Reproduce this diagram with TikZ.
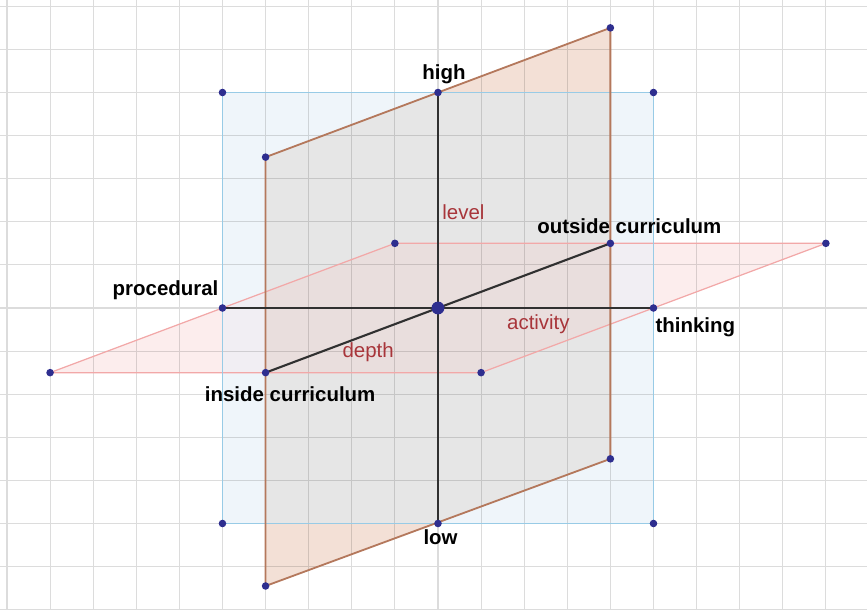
\documentclass[tikz,border=0pt]{standalone}
\usepackage{fontspec}
\setmainfont{Liberation Sans}
\definecolor{bluefill}{HTML}{EFF5FA}
\definecolor{blueedge}{HTML}{98CBE6}
\definecolor{grayfill}{HTML}{E6E6E6}
\definecolor{peachfill}{HTML}{F3E0D6}
\definecolor{brownedge}{HTML}{B4785C}
\definecolor{pinkfill}{HTML}{FCEDED}
\definecolor{lavfill}{HTML}{F1EEF3}
\definecolor{pinkgray}{HTML}{E9DEDD}
\definecolor{pinkedge}{HTML}{F2A8A8}
\definecolor{axiscol}{HTML}{303030}
\definecolor{dotcol}{HTML}{2E2E8F}
\definecolor{redlab}{HTML}{A8353A}
\definecolor{gridcol}{HTML}{DCDCDC}
\tikzset{
  gridline/.style={draw=gridcol,line width=0.7pt},
  blueline/.style={draw=blueedge,line width=1pt},
  brownline/.style={draw=brownedge,line width=1.2pt},
  pinkline/.style={draw=pinkedge,line width=0.8pt},
  axisline/.style={draw=axiscol,line width=1.4pt},
  pt/.style={circle,fill=dotcol,inner sep=0pt,minimum size=5pt},
  bigpt/.style={circle,fill=dotcol,inner sep=0pt,minimum size=8.5pt},
  lab/.style={font=\fontsize{13.5}{16}\selectfont\bfseries,text=black,anchor=base,inner sep=0pt},
  redl/.style={font=\fontsize{13.5}{16}\selectfont,text=redlab,anchor=base,inner sep=0pt}
}
\begin{document}
\begin{tikzpicture}
\useasboundingbox (-10.162,-7.007) rectangle (9.954,7.146);
% points
\coordinate (B1) at (-5,5); \coordinate (B2) at (5,5);
\coordinate (B3) at (5,-5); \coordinate (B4) at (-5,-5);
\coordinate (R1) at (-4,3.5); \coordinate (R2) at (4,6.5);
\coordinate (R3) at (4,-3.5); \coordinate (R4) at (-4,-6.45);
\coordinate (P1) at (-9,-1.5); \coordinate (P2) at (-1,1.5);
\coordinate (P3) at (9,1.5); \coordinate (P4) at (1,-1.5);
\coordinate (H) at (0,5); \coordinate (L) at (0,-5);
\coordinate (PR) at (-5,0); \coordinate (TH) at (5,0);
\coordinate (IN) at (-4,-1.5); \coordinate (OUT) at (4,1.5);
\coordinate (O) at (0,0);
% fills
\fill[bluefill] (B1) -- (B2) -- (B3) -- (B4) -- cycle;
\fill[peachfill] (R1) -- (R2) -- (R3) -- (R4) -- cycle;
\begin{scope}
  \clip (B1) -- (B2) -- (B3) -- (B4) -- cycle;
  \fill[grayfill] (R1) -- (R2) -- (R3) -- (R4) -- cycle;
\end{scope}
\fill[pinkfill] (P1) -- (P2) -- (P3) -- (P4) -- cycle;
\begin{scope}
  \clip (-5,-2) rectangle (5,2);
  \fill[lavfill] (P1) -- (P2) -- (P3) -- (P4) -- cycle;
\end{scope}
\begin{scope}
  \clip (-4,-2) rectangle (4,2);
  \fill[pinkgray] (P1) -- (P2) -- (P3) -- (P4) -- cycle;
\end{scope}
% grid
\begin{scope}[blend mode=multiply]
\draw[gridline] (-10.162,-7.007) grid[step=1] (9.954,7.146);
\end{scope}
% plane edges
\draw[pinkline] (P1) -- (P2) -- (P3) -- (P4) -- cycle;
\draw[blueline] (B1) -- (B2) -- (B3) -- (B4) -- cycle;
\draw[brownline] (R1) -- (R2) -- (R3) -- (R4) -- cycle;
% axes
\draw[axisline] (H) -- (L);
\draw[axisline] (PR) -- (TH);
\draw[axisline] (IN) -- (OUT);
% dots
\foreach \p in {B1,B2,B3,B4,R1,R2,R3,R4,P1,P2,P3,P4,H,L,PR,TH,IN,OUT}
  \node[pt] (d\p) at (\p) {};
\node[bigpt] (dO) at (O) {};
% labels
\node[lab] (lhigh) at (0.14,5.29) {high};
\node[lab] (llow) at (0.06,-5.48) {low};
\node[lab] (lproc) at (-6.32,0.30) {procedural};
\node[lab] (lthink) at (5.97,-0.56) {thinking};
\node[lab] (linside) at (-3.43,-2.16) {inside curriculum};
\node[lab] (loutside) at (4.44,1.74) {outside curriculum};
\node[redl] (llevel) at (0.59,2.06) {level};
\node[redl] (lact) at (2.33,-0.49) {activity};
\node[redl] (ldepth) at (-1.62,-1.16) {depth};
\end{tikzpicture}
\end{document}
